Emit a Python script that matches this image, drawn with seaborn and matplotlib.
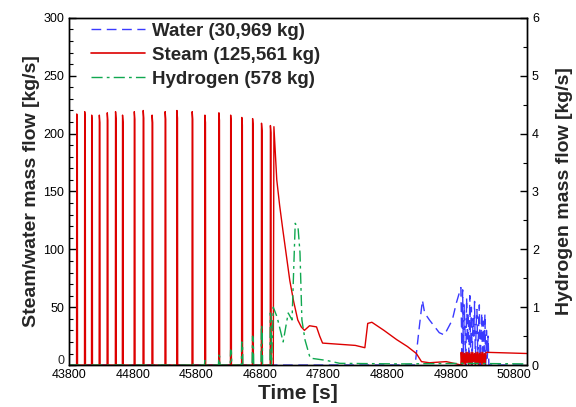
import numpy as np
import pandas as pd
import seaborn as sns
import matplotlib.pyplot as plt
from matplotlib.ticker import MultipleLocator, FixedLocator, FuncFormatter
from matplotlib.lines import Line2D

# steam pulses (time of pulse [s], peak [kg/s])
pulse_t = [43925, 44050, 44160, 44280, 44405, 44535, 44645, 44830, 44970, 45110,
           45315, 45500, 45740, 45940, 46160, 46345, 46520, 46690, 46830, 46970]
pulse_h = [217, 219, 216, 216, 218, 219, 216, 219, 220, 216,
           219, 220, 219, 216, 218, 216, 214, 213, 209, 207]

# steam after the pulses
steam_t = [47010, 47020, 47065, 47110, 47160, 47215, 47270, 47330, 47395, 47450, 47500,
           47580, 47690, 47740, 47785, 48050,
           48300, 48450, 48495, 48560, 48750, 48950, 49120, 49260, 49340, 49465,
           49730, 49890, 49960]
steam_v = [0, 206, 160, 138, 117, 95, 73, 55, 39, 33, 30,
           34, 33, 25, 19, 18,
           17, 15, 36, 37, 30, 22, 16, 10, 3, 2,
           3, 1, 0]
# oscillating band near 50000 s
band_v = [11, 0, 11, 1, 10, 0, 11, 2, 11, 0, 10, 1, 11, 0, 11, 3, 10, 0, 11, 1,
          11, 0, 10, 2, 11, 0, 11, 1, 10, 0, 11]
steam_tail_t = [50380, 51000]
steam_tail_v = [11, 10]

# water
water_t = [43800, 49240, 49300, 49355, 49390, 49465, 49620, 49700, 49825, 49890, 49960]
water_v = [0, 0, 30, 56, 45, 39, 28, 26, 39, 54, 67]
water_noise = [10, 65, 5, 52, 30, 0, 58, 20, 45, 3, 60, 15, 50, 0, 40, 25, 55, 2,
               35, 48, 8, 30, 52, 0, 22, 45, 5, 38, 12, 44, 0, 30, 6, 25, 0]

# hydrogen (right axis, kg/s)
h2_spike_t = [45740, 45940, 46160, 46345, 46520, 46690, 46830, 46970]
h2_spike_v = [0.04, 0.08, 0.17, 0.26, 0.40, 0.50, 0.69, 0.90]
h2_t = [47010, 47070, 47165, 47245, 47305, 47355, 47400, 47430, 47460, 47510,
        47590, 47850, 48055, 49000, 50000, 51000]
h2_v = [1.0, 0.83, 0.40, 0.90, 0.78, 2.45, 2.37, 1.94, 0.78, 0.43,
        0.12, 0.08, 0.03, 0.02, 0.03, 0.02]

labels = ['Water (30,969 kg)', 'Steam (125,561 kg)', 'Hydrogen (578 kg)']
c_water, c_steam, c_h2 = '#3a3aff', '#dd0000', '#10a850'

# build series
st, sv = [43800], [0]
for t, h in zip(pulse_t, pulse_h):
    st += [t - 8, t - 5, t + 4, t + 7]
    sv += [0, h, h * 0.97, 0]
st += steam_t
sv += steam_v
bt = np.linspace(49965, 50355, len(band_v))
st += list(bt) + steam_tail_t
sv += band_v + steam_tail_v

wt = list(water_t) + list(np.linspace(49975, 50400, len(water_noise))) + [50420, 51000]
wv = list(water_v) + water_noise + [0, 0]

ht, hv = [43800], [0]
for t, h in zip(h2_spike_t, h2_spike_v):
    ht += [t - 12, t - 6, t + 6, t + 12]
    hv += [0, h, h * 0.9, 0]
ht += h2_t
hv += h2_v

sns.set_theme(style='white')
plt.rcParams['font.family'] = ['Liberation Sans', 'DejaVu Sans']

fig = plt.figure(figsize=(5.76, 4.07), dpi=100)
ax = fig.add_axes([0.12, 0.103, 0.795, 0.853])
ax2 = ax.twinx()

sns.lineplot(x=wt, y=wv, ax=ax, color=c_water, lw=1.0, estimator=None, sort=False,
             linestyle=(0, (7, 4)))
sns.lineplot(x=st, y=sv, ax=ax, color=c_steam, lw=1.0, estimator=None, sort=False)
sns.lineplot(x=ht, y=hv, ax=ax2, color=c_h2, lw=1.0, estimator=None, sort=False,
             linestyle=(0, (8, 3, 2, 3)))

ax.set_xlim(43800, 51000)
ax.set_ylim(0, 300)
ax2.set_ylim(0, 6)
ax.xaxis.set_major_locator(FixedLocator(np.arange(43800, 51001, 1000)))
ax.xaxis.set_minor_locator(MultipleLocator(200))
ax.yaxis.set_major_locator(MultipleLocator(50))
ax.yaxis.set_minor_locator(MultipleLocator(10))
# the 0 of the left axis sits just above the corner, drawn separately
ax.yaxis.set_major_formatter(FuncFormatter(lambda v, p: '' if v == 0 else f'{v:g}'))
ax2.yaxis.set_major_locator(MultipleLocator(1))
ax2.yaxis.set_minor_locator(MultipleLocator(0.5))

for a in (ax, ax2):
    for s in a.spines.values():
        s.set_color('black')
        s.set_linewidth(1.0)
ax.tick_params(axis='both', which='both', direction='in', labelsize=9, colors='black')
ax.tick_params(which='major', length=5, width=1)
ax.tick_params(which='minor', length=3, width=0.8)
ax.tick_params(axis='x', pad=3)
ax2.tick_params(axis='y', which='both', direction='in', labelsize=9, colors='black')
ax2.tick_params(which='major', length=5, width=1)
ax2.tick_params(which='minor', length=3, width=0.8)
ax.annotate('0', xy=(0, 0), xycoords='axes fraction', xytext=(-3.5, -1.5),
            textcoords='offset points', ha='right', va='bottom', fontsize=9)

ax.set_xlabel('Time [s]', fontsize=15, fontweight='bold', labelpad=2)
ax.set_ylabel('Steam/water mass flow [kg/s]', fontsize=14, fontweight='bold', labelpad=2)
ax2.set_ylabel('Hydrogen mass flow [kg/s]', fontsize=14, fontweight='bold', labelpad=12)

handles = [Line2D([], [], color=c_water, lw=1.0, linestyle=(0, (7, 4))),
           Line2D([], [], color=c_steam, lw=1.2),
           Line2D([], [], color=c_h2, lw=1.0, linestyle=(0, (8, 3, 2, 3)))]
leg = ax2.legend(handles, labels, loc='upper left', bbox_to_anchor=(0.01, 1.035),
                 frameon=False, handlelength=2.9, handletextpad=0.4, labelspacing=0.36,
                 prop={'size': 13.5, 'weight': 'bold'})

fig.savefig('out.png', dpi=100)
